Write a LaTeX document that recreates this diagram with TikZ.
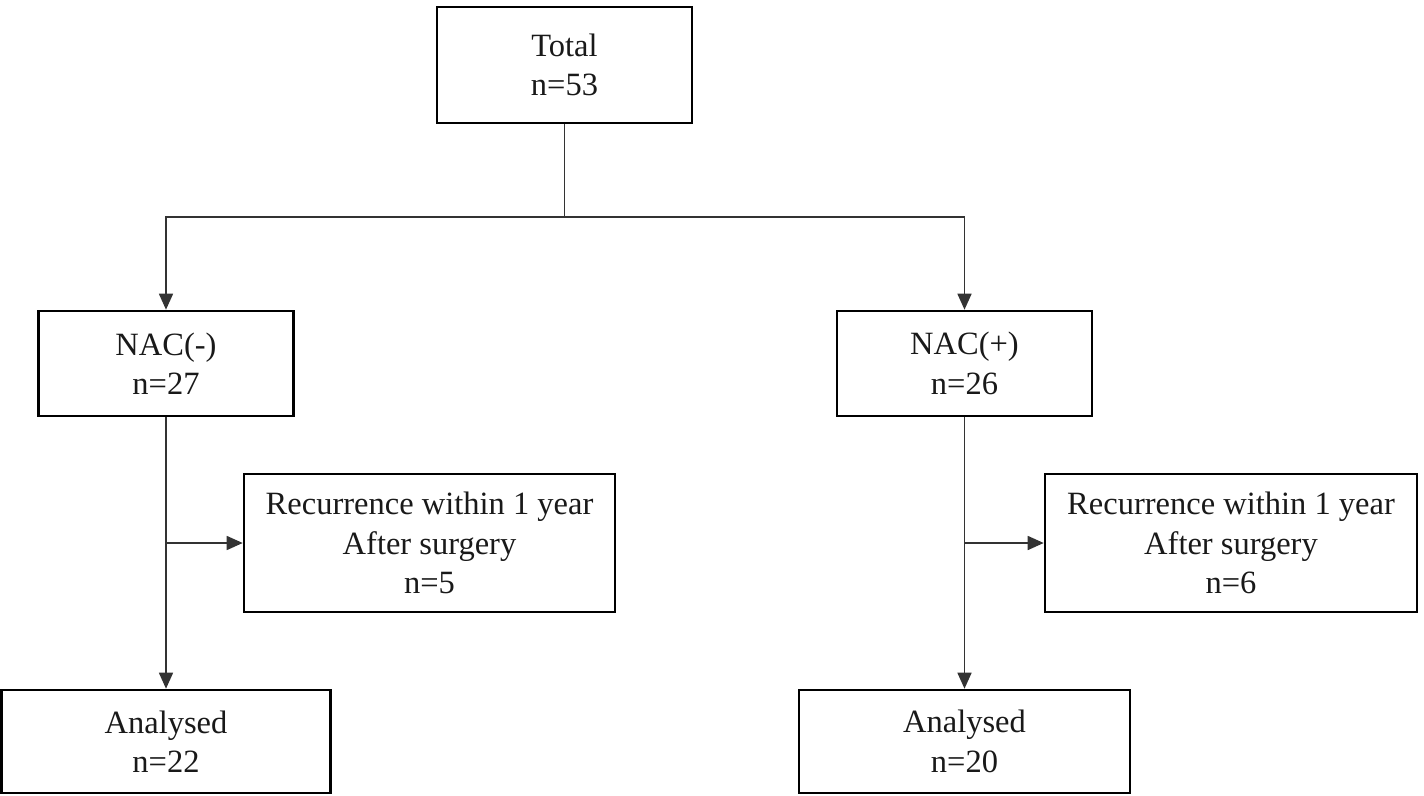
\documentclass[tikz,border=0pt]{standalone}
\usepackage{fontspec}
\setmainfont{Liberation Serif}
\usetikzlibrary{arrows.meta}
\begin{document}
\begin{tikzpicture}[x=1pt,y=-1pt,
  box/.style={draw=black,line width=2.6pt,align=center,inner sep=0pt,
    font=\fontsize{32.5}{39.5}\selectfont,text=black!90},
  conn/.style={draw=black!80,line width=1.6pt},
  arr/.style={conn,-{Triangle[length=16pt,width=14pt]}}]
\useasboundingbox (0,0) rectangle (1424,795);
\node[box,minimum width=255,minimum height=116] (total) at (564.5,65) {Total\\n=53};
\node[box,minimum width=255,minimum height=105] (nacm) at (166,363.5) {NAC(-)\\n=27};
\node[box,minimum width=255,minimum height=105] (nacp) at (964.5,363.5) {NAC(+)\\n=26};
\node[box,minimum width=371,minimum height=138] (recm) at (429.5,543) {Recurrence within 1 year\\After surgery\\n=5};
\node[box,minimum width=372,minimum height=138] (recp) at (1231,543) {Recurrence within 1 year\\After surgery\\n=6};
\node[box,minimum width=329,minimum height=103] (anm) at (166,741.5) {Analysed\\n=22};
\node[box,minimum width=331,minimum height=103] (anp) at (964.5,741.5) {Analysed\\n=20};
\coordinate (split) at (564.5,217);
\draw[conn] (total.south) -- (split);
\draw[arr] (split) -| (nacm.north);
\draw[arr] (split) -| (nacp.north);
\draw[arr] (nacm.south) -- (anm.north);
\draw[arr] (nacp.south) -- (anp.north);
\draw[arr] (nacm.south |- recm.west) -- (recm.west);
\draw[arr] (nacp.south |- recp.west) -- (recp.west);
\end{tikzpicture}
\end{document}
